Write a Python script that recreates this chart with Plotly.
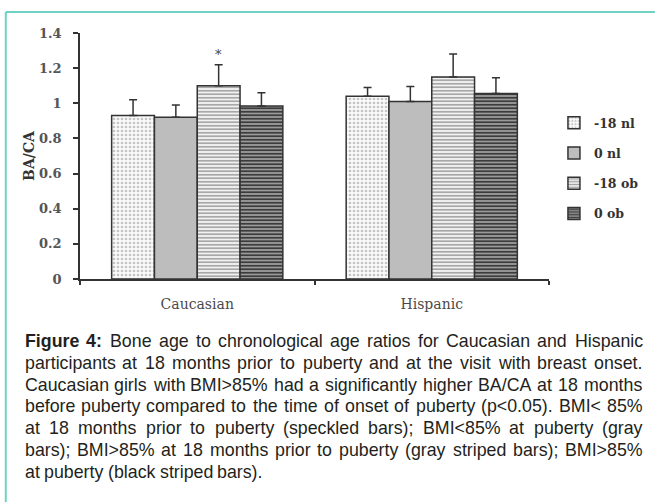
import plotly.graph_objects as go

# ---------------- data ----------------
categories = ["Caucasian", "Hispanic"]
series_names = ["-18 nl", "0 nl", "-18 ob", "0 ob"]
val_18nl = [0.93, 1.04]
val_0nl = [0.92, 1.01]
val_18ob = [1.10, 1.15]
val_0ob = [0.985, 1.055]
err_18nl = [0.09, 0.05]
err_0nl = [0.07, 0.085]
err_18ob = [0.12, 0.13]
err_0ob = [0.075, 0.09]
y_ticks = [0, 0.2, 0.4, 0.6, 0.8, 1, 1.2, 1.4]
star_series = 2      # index of series with significance marker
star_category = 0    # Caucasian

caption_lines = [
    "Figure 4: Bone age to chronological age ratios for Caucasian and Hispanic",
    "participants at 18 months prior to puberty and at the visit with breast onset.",
    "Caucasian girls with BMI>85% had a significantly higher BA/CA at 18 months",
    "before puberty compared to the time of onset of puberty (p<0.05). BMI< 85%",
    "at 18 months prior to puberty (speckled bars); BMI<85% at puberty (gray",
    "bars); BMI>85% at 18 months prior to puberty (gray striped bars); BMI>85%",
    "at puberty (black striped bars).",
]

values = [val_18nl, val_0nl, val_18ob, val_0ob]
errors = [err_18nl, err_0nl, err_18ob, err_0ob]

# ---------------- layout geometry ----------------
W, H = 656, 502
ML, MR, MT, MB = 80, 102, 33, 223
PW = W - ML - MR
PH = H - MT - MB
BARGAP = 0.27

def px_x(p):
    return (p - ML) / PW

def px_y(p):
    return (H - MB - p) / PH

patterns = [
    dict(shape=".", fillmode="replace", fgcolor="#c4c4c4", bgcolor="#fafafa", size=4, solidity=0.35),
    None,
    dict(shape="-", fillmode="replace", fgcolor="#a0a0a0", bgcolor="#f2f2f2", size=3.5, solidity=0.45),
    dict(shape="-", fillmode="replace", fgcolor="#3c3c3c", bgcolor="#9a9a9a", size=3.5, solidity=0.5),
]
colors = ["#fafafa", "#bdbdbd", "#d0d0d0", "#6a6a6a"]

fig = go.Figure()
for i, name in enumerate(series_names):
    marker = dict(color=colors[i], line=dict(color="#333333", width=1.5))
    if patterns[i] is not None:
        marker["pattern"] = patterns[i]
    fig.add_trace(go.Bar(
        x=categories, y=values[i], name=name, marker=marker,
        legendgroup=name,
        error_y=dict(type="data", symmetric=False, array=errors[i],
                     arrayminus=[0] * len(categories),
                     color="#333333", thickness=1.5, width=4),
    ))

# significance asterisk above the chosen bar
grp = 1 - BARGAP
bw = grp / len(series_names)
star_x = star_category - grp / 2 + (star_series + 0.5) * bw
star_y = values[star_series][star_category] + errors[star_series][star_category]

annotations = [dict(x=star_x, y=star_y, xref="x", yref="y", text="*", showarrow=False,
                    yanchor="bottom", yshift=1,
                    font=dict(family="DejaVu Serif", size=13, color="#444"))]

# ---------------- caption (justified via Arial metrics) ----------------
AR = {' ': 278, '!': 278, '%': 889, '(': 333, ')': 333, ',': 278, '-': 333, '.': 278,
      '/': 278, ':': 278, ';': 278, '<': 584, '>': 584, '=': 584,
      'A': 667, 'B': 667, 'C': 722, 'D': 722, 'E': 667, 'F': 611, 'G': 778, 'H': 722,
      'I': 278, 'J': 500, 'K': 667, 'L': 556, 'M': 833, 'N': 722, 'O': 778, 'P': 667,
      'Q': 778, 'R': 722, 'S': 667, 'T': 611, 'U': 722, 'V': 667, 'W': 944, 'X': 667,
      'Y': 667, 'Z': 611,
      'a': 556, 'b': 556, 'c': 500, 'd': 556, 'e': 556, 'f': 278, 'g': 556, 'h': 556,
      'i': 222, 'j': 222, 'k': 500, 'l': 222, 'm': 833, 'n': 556, 'o': 556, 'p': 556,
      'q': 556, 'r': 333, 's': 500, 't': 278, 'u': 556, 'v': 500, 'w': 722, 'x': 500,
      'y': 500, 'z': 500}
for d in "0123456789":
    AR[d] = 556
ARB = dict(AR)
ARB.update({'F': 611, 'i': 278, 'g': 611, 'u': 611, 'r': 389, 'e': 556, ':': 333})

FS = 17.8
CAP_L, CAP_R = 22, 646
CAP_Y0, CAP_DY = 341, 21.8

def wwidth(word, bold):
    t = ARB if bold else AR
    return sum(t.get(c, 556) for c in word) * FS / 1000.0

def esc(s):
    return s.replace("&", "&amp;").replace("<", "&lt;").replace(">", "&gt;")

for li, line in enumerate(caption_lines):
    words = line.split(" ")
    bold_flags = [li == 0 and wi < 2 for wi in range(len(words))]
    widths = [wwidth(w, b) for w, b in zip(words, bold_flags)]
    last = li == len(caption_lines) - 1
    if last or len(words) == 1:
        gap = AR[' '] * FS / 1000.0
    else:
        gap = (CAP_R - CAP_L - sum(widths)) / (len(words) - 1)
    xpos = CAP_L
    ypx = CAP_Y0 + li * CAP_DY
    for w, b, ww in zip(words, bold_flags, widths):
        txt = esc(w)
        if b:
            txt = "<b>" + txt + "</b>"
        annotations.append(dict(
            x=px_x(xpos), y=px_y(ypx), xref="paper", yref="paper", text=txt,
            showarrow=False, xanchor="left", yanchor="middle", align="left",
            font=dict(family="Liberation Sans", size=FS, color="#231f20"),
        ))
        xpos += ww + gap

# teal frame lines
shapes = [
    dict(type="line", xref="paper", yref="paper", x0=px_x(5), x1=px_x(W + 5),
         y0=px_y(12), y1=px_y(12), line=dict(color="#6fd3c4", width=2)),
    dict(type="line", xref="paper", yref="paper", x0=px_x(5), x1=px_x(5),
         y0=px_y(12), y1=px_y(H + 5), line=dict(color="#6fd3c4", width=2)),
]

fig.update_layout(
    width=W, height=H,
    margin=dict(l=ML, r=MR, t=MT, b=MB, pad=0),
    paper_bgcolor="white", plot_bgcolor="white",
    barmode="group", bargap=BARGAP, bargroupgap=0,
    showlegend=True,
    legend=dict(x=px_x(559), y=px_y(108), xanchor="left", yanchor="top",
                font=dict(family="DejaVu Serif", size=12.5, color="#333", weight="bold"),
                tracegroupgap=11, itemwidth=30, bgcolor="rgba(0,0,0,0)"),
    annotations=annotations,
    shapes=shapes,
    xaxis=dict(type="category", range=[-0.5, 1.5], showline=True, linecolor="#333",
               linewidth=1.5, ticks="outside", tickson="boundaries", ticklen=4,
               tickcolor="#333", tickwidth=1.5, showgrid=False, zeroline=False,
               ticklabelstandoff=11,
               tickfont=dict(family="DejaVu Serif", size=14, color="#4a4a4a")),
    yaxis=dict(range=[0, 1.4], tickvals=y_ticks, ticktext=[f"{v:g}" for v in y_ticks],
               showline=True, linecolor="#333", linewidth=1.5, ticks="outside",
               ticklen=5, tickcolor="#333", tickwidth=1.5, showgrid=False,
               zeroline=False, ticklabelstandoff=9,
               tickfont=dict(family="DejaVu Serif", size=13, color="#555", weight="bold"),
               title=dict(text="BA/CA", standoff=1,
                          font=dict(family="DejaVu Serif", size=14, color="#333",
                                    weight="bold"))),
)

fig.write_html("out.html")
